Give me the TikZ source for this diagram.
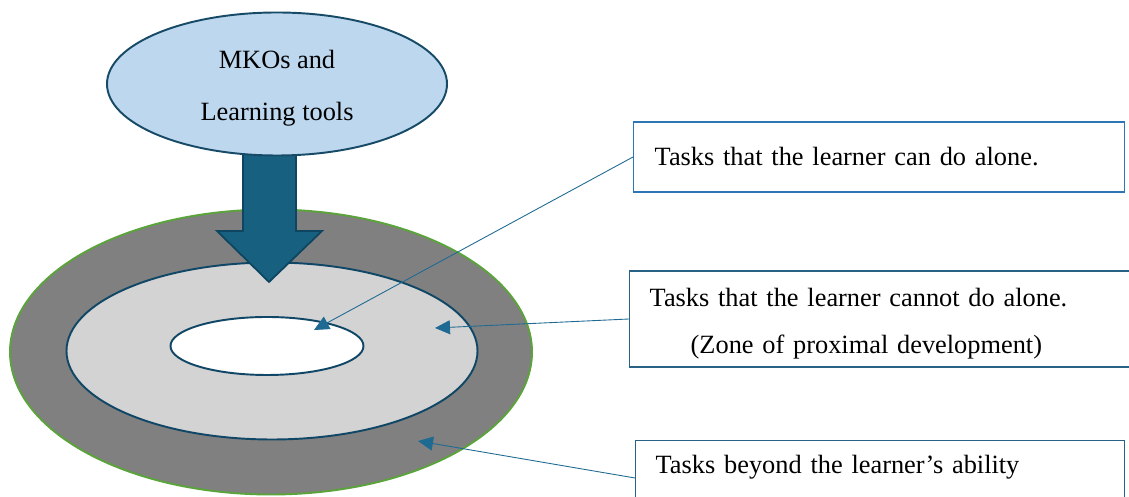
\documentclass[tikz,border=0pt]{standalone}
\usepackage{fontspec}
\setmainfont{Liberation Serif}
\usetikzlibrary{calc}
\usetikzlibrary{positioning}
\usetikzlibrary{shapes.geometric}
\usetikzlibrary{arrows.meta}

\definecolor{toolfill}{HTML}{BDD7EE}
\definecolor{tooldraw}{HTML}{174A66}
\definecolor{arrowfill}{HTML}{17607F}
\definecolor{arrowdraw}{HTML}{0E4560}
\definecolor{beyondfill}{HTML}{808080}
\definecolor{beyonddraw}{HTML}{5BA33B}
\definecolor{zpdfill}{HTML}{D3D3D3}
\definecolor{ringdraw}{HTML}{114766}
\definecolor{linkblue}{HTML}{1E6A92}
\definecolor{boxblue}{HTML}{2E75B6}
\definecolor{boxteal}{HTML}{2A6285}

\begin{document}
\begin{tikzpicture}[
	every node/.style={font=\fontsize{15}{26.7}\selectfont},
	ring/.style={ellipse,inner sep=0pt,line width=1.1pt},
	taskbox/.style={draw,rectangle,line width=0.8pt,align=left,inner xsep=0.42cm,text width=8.98cm},
	pointer/.style={draw=linkblue,line width=0.5pt,-{Triangle[length=0.3cm,width=0.28cm]}}
	]
			\useasboundingbox (0,0) rectangle (22.58,9.94);
			%print the three rings
			\node[ring,draw=beyonddraw,fill=beyondfill,minimum width=10.44cm,minimum height=5.70cm] (beyond) at (5.42,2.90) {};
			\node[ring,draw=ringdraw,fill=zpdfill,minimum width=8.22cm,minimum height=3.54cm] (zpd) at (5.44,2.92) {};
			\node[ring,draw=ringdraw,fill=white,minimum width=3.86cm,minimum height=1.16cm] (alone) at (5.34,3.02) {};
			%big arrow from the tools
			\coordinate (tip) at (5.38,4.30);
			\draw[draw=arrowdraw,fill=arrowfill,line width=1pt] (4.86,7.0)--(4.86,5.32)--(4.34,5.32)--(tip)--(6.44,5.32)--(5.92,5.32)--(5.92,7.0)--cycle;
			\node[ring,draw=tooldraw,fill=toolfill,minimum width=6.8cm,minimum height=2.86cm,align=center,font=\fontsize{15}{29.5}\selectfont] (tools) at (5.54,8.26) {\rule{0pt}{0.55cm}MKOs and\\Learning tools};
			%task boxes
			\node[taskbox,draw=boxblue,anchor=west,minimum height=1.40cm] (box1) at (12.66,6.80) {Tasks that the learner can do alone.};
			\node[taskbox,draw=boxteal,anchor=west,minimum height=1.92cm,text width=10cm,inner xsep=0.4cm] (box2) at (12.58,3.56) {\rule{0pt}{0.55cm}Tasks that the learner cannot do alone.\\\hspace*{0.82cm}(Zone of proximal development)};
			\node[taskbox,draw=boxteal,anchor=north west,inner xsep=0.4cm,inner ysep=0.3cm,text height=0.36cm,text depth=1.0cm] (box3) at (12.70,1.14) {Tasks beyond the learner’s ability};
			%pointers into the rings
			\coordinate (aloneend) at (6.28,3.34);
			\coordinate (zpdend) at (8.70,3.38);
			\coordinate (beyondend) at (8.36,1.12);
			\draw[pointer] (box1.west)--(aloneend);
			\draw[pointer] (box2.west)--(zpdend);
			\draw[pointer] ([yshift=-0.76cm]box3.north west)--(beyondend);
		\end{tikzpicture}
\end{document}
